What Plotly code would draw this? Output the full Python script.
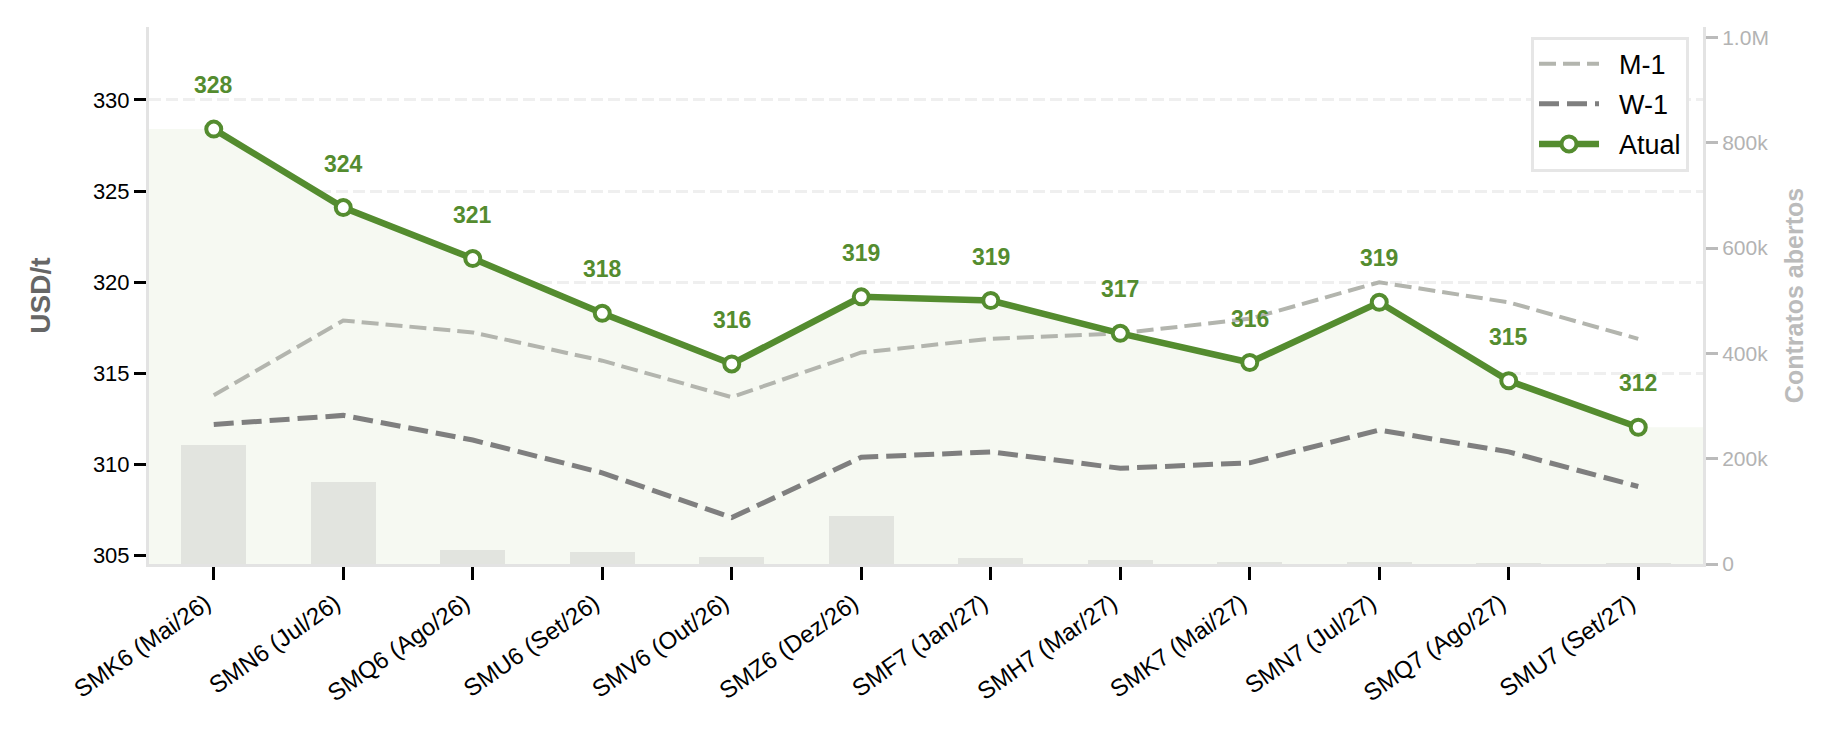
import plotly.graph_objects as go

contracts = ["SMK6 (Mai/26)", "SMN6 (Jul/26)", "SMQ6 (Ago/26)", "SMU6 (Set/26)",
             "SMV6 (Out/26)", "SMZ6 (Dez/26)", "SMF7 (Jan/27)", "SMH7 (Mar/27)",
             "SMK7 (Mai/27)", "SMN7 (Jul/27)", "SMQ7 (Ago/27)", "SMU7 (Set/27)"]
atual = [328.4, 324.1, 321.3, 318.3, 315.52, 319.2, 319.0, 317.2, 315.6, 318.9, 314.6, 312.05]
m_1 = [313.8, 317.9, 317.25, 315.7, 313.7, 316.15, 316.9, 317.2, 318.0, 320.0, 318.9, 316.9]
w_1 = [312.2, 312.7, 311.35, 309.55, 307.1, 310.4, 310.7, 309.8, 310.1, 311.9, 310.7, 308.8]
open_int = [226000, 156000, 26000, 23000, 14000, 92000, 12000, 8000, 4000, 2000, 1500, 1000]

y_ticks = [305, 310, 315, 320, 325, 330]
oi_ticks = [0, 200000, 400000, 600000, 800000, 1000000]
oi_tick_text = ["0", "200k", "400k", "600k", "800k", "1.0M"]

GREEN = "#548C2F"
FONT = "Liberation Sans, Arial, sans-serif"
GAP = "\u00a0\u00a0"
xs = list(range(len(contracts)))

fig = go.Figure()

# shaded area under current curve, extended to plot edges
fig.add_trace(go.Scatter(
    x=[-0.5] + xs + [len(xs) - 0.5], y=[atual[0]] + atual + [atual[-1]],
    mode="lines", line=dict(width=0), fill="tozeroy",
    fillcolor="#F6F9F2", showlegend=False, hoverinfo="skip"))

fig.add_trace(go.Scatter(x=xs, y=m_1, name=GAP + "M-1", mode="lines", legendgroup="a",
                         line=dict(color="#B3B5AE", width=4, dash="17px,7px")))
fig.add_trace(go.Scatter(x=xs, y=w_1, name=GAP + "W-1", mode="lines", legendgroup="b",
                         line=dict(color="#7F7F7F", width=5, dash="20px,8px")))
fig.add_trace(go.Scatter(x=xs, y=atual, name=GAP + "Atual", mode="lines+markers", legendgroup="c",
                         line=dict(color=GREEN, width=6.5),
                         marker=dict(size=15, color="white",
                                     line=dict(color=GREEN, width=4))))

fig.add_trace(go.Bar(x=xs, y=open_int, yaxis="y2", width=0.5,
                     marker=dict(color="#E2E4DF", line=dict(width=0)),
                     showlegend=False))

for x, v in zip(xs, atual):
    fig.add_annotation(x=x, y=v, text=f"<b>{v:.0f}</b>", showarrow=False,
                       yshift=44, yanchor="middle",
                       font=dict(family=FONT, size=23, color=GREEN))

fig.update_layout(
    width=1846, height=734,
    margin=dict(l=149, r=143, t=27, b=170),
    plot_bgcolor="white", paper_bgcolor="white",
    font=dict(family=FONT, color="black"),
    bargap=0,
    xaxis=dict(range=[-0.5, len(xs) - 0.5], tickvals=xs, ticktext=contracts,
               tickangle=-35, tickfont=dict(size=24, color="black"),
               ticklabelshift=-8,
               ticks="outside", ticklen=13, tickwidth=3, tickcolor="black",
               showline=True, linecolor="#E3E3E3", linewidth=3,
               showgrid=False, zeroline=False),
    yaxis=dict(range=[304.55, 334.0], tickvals=y_ticks,
               tickfont=dict(size=22, color="black"),
               ticks="outside", ticklen=12, tickwidth=3, tickcolor="black",
               showline=True, linecolor="#E3E3E3", linewidth=3,
               showgrid=True, gridcolor="#EFEFEF", gridwidth=2.5, griddash="12px,5px",
               zeroline=False,
               title=dict(text="<b>USD/t</b>", standoff=35,
                          font=dict(size=28, color="#666666"))),
    yaxis2=dict(range=[0, 1020000], overlaying="y", side="right",
                tickvals=oi_ticks, ticktext=oi_tick_text,
                tickfont=dict(size=21, color="#B3B3B3"),
                ticks="outside", ticklen=12, tickwidth=3, tickcolor="#BBBBBB",
                showline=True, linecolor="#E3E3E3", linewidth=3,
                showgrid=False, zeroline=False,
                title=dict(text="<b>Contratos abertos</b>", standoff=18,
                           font=dict(size=25, color="#BBBBBB"))),
    legend=dict(x=0.991, y=0.982, xanchor="right", yanchor="top",
                bgcolor="white", bordercolor="#E6E6E6", borderwidth=3,
                font=dict(size=27, color="black"), traceorder="grouped",
                tracegroupgap=2, itemwidth=60),
)

fig.write_html("out.html")
